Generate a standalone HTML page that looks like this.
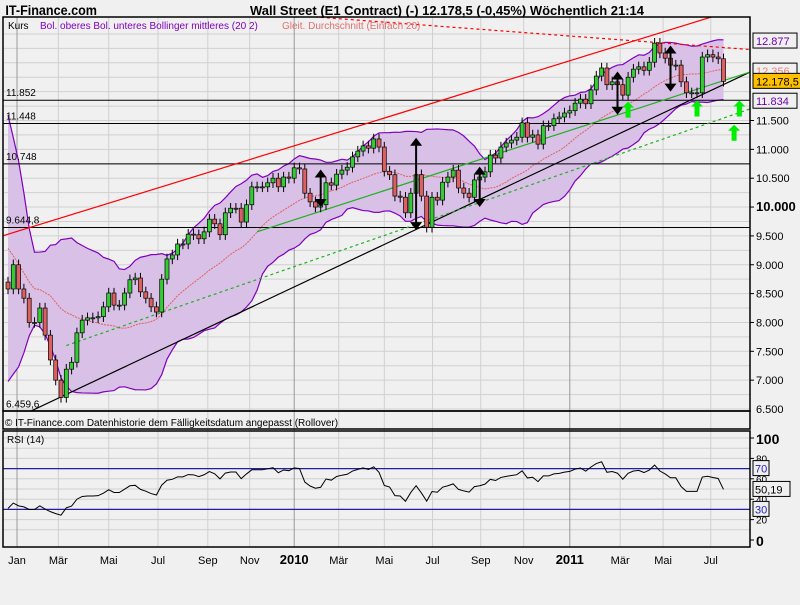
<!DOCTYPE html>
<html><head><meta charset="utf-8"><style>
body{margin:0;background:#f0f0f0;font-family:"Liberation Sans",sans-serif;}
svg text{font-family:"Liberation Sans",sans-serif;}
</style></head><body>
<svg id="c" width="800" height="600" xmlns="http://www.w3.org/2000/svg">
<rect x="0" y="0" width="800" height="600" fill="#f0f0f0"/>
<text x="6" y="15" font-size="14" font-weight="bold" transform="scale(0.9,1)" >IT-Finance.com</text>
<text x="250" y="15" font-size="13" font-weight="bold" textLength="394">Wall Street (E1 Contract) (-)    12.178,5 (-0,45%)    Wöchentlich  21:14</text>
<g id="grid"></g>
<g id="plot"></g>
<g id="rsi"></g>
<g id="axes"></g>
<text x="8" y="29" font-size="10">Kurs</text>
<text x="40" y="29" font-size="10" fill="#8000c0">Bol. oberes Bol. unteres Bollinger mittleres (20 2)</text>
<text x="282" y="29" font-size="10" fill="#e07070">Gleit. Durchschnitt (Einfach 20)</text>
<text x="5" y="426" font-size="10">© IT-Finance.com  Datenhistorie dem Fälligkeitsdatum angepasst (Rollover)</text>
<text x="7" y="443" font-size="10">RSI (14)</text>
</svg>
<script>
const pre = [11600,11400,11500,11200,10300,8500,8900,8400,9300,8900,8500,8100,8800,8600,8600,8500,8500,8800,8700];
const closes = [8580,9000,8580,8420,8000,8000,8250,7780,7350,7000,6700,7190,7310,7820,8040,8080,8080,8100,8270,8510,8300,8300,8510,8740,8770,8530,8420,8270,8180,8750,9100,9170,9360,9360,9530,9520,9450,9570,9790,9710,9520,9900,9980,9980,9740,10040,10350,10350,10350,10420,10500,10350,10520,10500,10680,10660,
10240,10090,10000,10040,10420,10380,10570,10640,10690,10870,10970,11060,11020,11180,11040,10620,10560,10190,10170,9900,10240,10560,10190,9650,10170,10120,10430,10520,10640,10330,10240,10170,10470,10520,10610,10900,10850,11040,
11110,11160,11210,11460,11210,11250,11090,11410,11410,11530,11560,11630,11670,11800,11870,11790,12030,12270,12410,12120,12170,12120,11940,12250,12390,12430,12370,12510,12840,12670,12580,12460,12460,12170,11980,11980,11980,12600,12640,12600,12570,12178.5];
const priceTicks = [7000,7500,8000,8500,9000,9500,10000,10500,11000,11500];
const priceTickLabels = ["7.000","7.500","8.000","8.500","9.000","9.500","10.000","10.500","11.000","11.500"];
const levels = [11852,11448,10748,9644.8,6459.6];
const levelLabels = ["11.852","11.448","10.748","9.644,8","6.459,6"];
const months = ["Jan","Mär","Mai","Jul","Sep","Nov","2010","Mär","Mai","Jul","Sep","Nov","2011","Mär","Mai","Jul"];
const monthIdx = [1.7,9.5,19,28.3,37.7,45.6,54,62.4,71,80.1,89.2,97.3,106,115.5,123.6,132.6];
const rsiTicks = [0,20,40,60,80,100];
const arrowsIdx = [[59,10000,10650],[77,9600,11200],[89,10000,10700],[115,11600,12350],[125,12000,12800]];
const upArrowsIdx = [[117,11550],[130,11570],[138,11570],[137,11150]];

const NS="http://www.w3.org/2000/svg";
const X0=3,X1=750,Y0=17,Y1=411;
const xs=i=>8+i*5.3;
const py=v=>409-(v-6500)*0.0577;
const ry=r=>540-r*1.02;
function el(tag,attrs,parent){const e=document.createElementNS(NS,tag);for(const k in attrs)e.setAttribute(k,attrs[k]);parent.appendChild(e);return e;}
const grid=document.getElementById('grid'),plot=document.getElementById('plot'),rsiG=document.getElementById('rsi'),axes=document.getElementById('axes');

let r=el('rect',{x:X0,y:Y0,width:X1-X0,height:Y1-Y0,fill:'#f0f0f0'},grid);

for(let v=6500;v<=13000;v+=250){const l=el('line',{x1:X0,x2:X1,y1:py(v),y2:py(v),stroke:'#d0d0d0'},grid);}
for(let r2=10;r2<=100;r2+=10){const l=el('line',{x1:X0,x2:X1,y1:ry(r2),y2:ry(r2),stroke:'#d0d0d0'},grid);}
monthIdx.forEach((m,k)=>{const yr=months[k].length===4||k===0;const l=el('line',{x1:xs(m),x2:xs(m),y1:Y0,y2:547,stroke:yr?'#999':'#d0d0d0'},grid);});

const defs=el('defs',{},plot);const cp=el('clipPath',{id:'cp'},defs);el('rect',{x:X0,y:Y0,width:X1-X0,height:Y1-Y0},cp);
const pg=el('g',{'clip-path':'url(#cp)'},plot);

const all=pre.concat(closes);const P=pre.length;
const up=[],lo=[],mid=[];
closes.forEach((c,i)=>{const w=all.slice(P+i-19,P+i+1);const m=w.reduce((a,b)=>a+b,0)/w.length;const sd=Math.sqrt(w.reduce((a,b)=>a+(b-m)*(b-m),0)/w.length);mid.push(m);up.push(m+2*sd);lo.push(m-2*sd);});
let d='M'+closes.map((c,i)=>xs(i)+','+py(up[i])).join('L')+'L'+closes.map((c,i)=>xs(closes.length-1-i)+','+py(lo[closes.length-1-i])).join('L')+'Z';
let e=el('path',{d:d,fill:'#d9c0e6'},pg);
e=el('path',{d:'M'+up.map((v,i)=>xs(i)+','+py(v)).join('L'),fill:'none',stroke:'#8000c0','stroke-width':1.2},pg);
e=el('path',{d:'M'+lo.map((v,i)=>xs(i)+','+py(v)).join('L'),fill:'none',stroke:'#8000c0','stroke-width':1.2},pg);
e=el('path',{d:'M'+mid.map((v,i)=>xs(i)+','+py(v)).join('L'),fill:'none',stroke:'#e06060','stroke-width':1,'stroke-dasharray':'2,1'},pg);

levels.forEach((v,k)=>{const l=el('line',{x1:X0,x2:X1,y1:py(v),y2:py(v),stroke:'#000'},pg);
const t=el('text',{x:6,y:py(v)-4,'font-size':10},pg);t.textContent=levelLabels[k];});

function tl(i1,v1,i2,v2,col,dash,name){const l=el('line',{x1:xs(i1),y1:py(v1),x2:xs(i2),y2:py(v2),stroke:col,'stroke-width':1.2},pg);if(dash)l.setAttribute('stroke-dasharray',dash);}
tl(-1,9500,140,13500,'#ff0000',null,'red-trendline');
tl(4,6450,140,12340,'#000',null,'black-trendline');
tl(47,9570,140,12340,'#20b020',null,'green-trendline');
tl(11,7600,140,11700,'#20b020','3,3','green-dashed-trendline');
tl(50,13350,140,12730,'#ff0000','3,3','red-dashed-trendline');

closes.forEach((c,i)=>{const o=i===0?8700:closes[i-1];const x=xs(i);const hi=Math.max(o,c),lw=Math.min(o,c);
const w=el('line',{x1:x,x2:x,y1:py(hi+90),y2:py(lw-90),stroke:'#000'},pg);
const b=el('rect',{x:x-2,y:py(hi),width:4,height:Math.max(1,py(lw)-py(hi)),fill:c>=o?'#33cc33':'#dd6060',stroke:'#000','stroke-width':0.7},pg);});

arrowsIdx.forEach(a=>{const x=xs(a[0]),y1=py(a[2]),y2=py(a[1]);
const l=el('line',{x1:x,x2:x,y1:y1+6,y2:y2-6,stroke:'#000','stroke-width':2},pg);
const t1=el('polygon',{points:`${x-6},${y1+8} ${x+6},${y1+8} ${x},${y1}`,fill:'#000'},pg);
const t2=el('polygon',{points:`${x-6},${y2-8} ${x+6},${y2-8} ${x},${y2}`,fill:'#000'},pg);});
upArrowsIdx.forEach(a=>{const x=xs(a[0]),y=py(a[1]);const p=el('polygon',{points:`${x},${y-16} ${x+6},${y-10} ${x+2.5},${y-10} ${x+2.5},${y} ${x-2.5},${y} ${x-2.5},${y-10} ${x-6},${y-10}`,fill:'#00ee00'},plot);});

const rs=[];let ag=0,al=0;
all.forEach((c,i)=>{if(i===0)return;const ch=c-all[i-1];const g=Math.max(ch,0),lz=Math.max(-ch,0);if(i<=14){ag+=g/14;al+=lz/14;}else{ag=(ag*13+g)/14;al=(al*13+lz)/14;}if(i>=P)rs.push(al===0?100:100-100/(1+ag/al));});
[70,30].forEach(v=>{const l=el('line',{x1:X0,x2:X1,y1:ry(v),y2:ry(v),stroke:'#2020a0','stroke-width':1.2},rsiG);});
e=el('path',{d:'M'+rs.map((v,i)=>xs(i)+','+ry(v)).join('L'),fill:'none',stroke:'#000'},rsiG);

[[X0,Y0,X1-X0,Y1-Y0],[X0,Y1,X1-X0,18],[X0,431,X1-X0,116]].forEach(f=>{const q=el('rect',{x:f[0],y:f[1],width:f[2],height:f[3],fill:'none',stroke:'#000','stroke-width':1.5},axes);});

priceTicks.forEach((v,k)=>{const y=py(v);const l=el('line',{x1:X1,x2:X1+4,y1:y,y2:y,stroke:'#000'},axes);
const t=el('text',{x:756,y:y+4,'font-size':v===10000?13:11,'font-weight':v===10000?'bold':'normal'},axes);t.textContent=priceTickLabels[k];});
let t6=el('text',{x:756,y:413,'font-size':11},axes);t6.textContent='6.500';
function box(v,txt,col,bg,name){const y=py(v);const b=el('rect',{x:753,y:y-8,width:x2w(txt),height:15,fill:bg,stroke:'#000'},axes);const t=el('text',{x:756,y:y+4,'font-size':11,fill:col},axes);t.textContent=txt;}
function x2w(s){return s.length*7+2;}
box(12877,'12.877','#7000b0','#f0f0f0','upper-band-value');
box(12356,'12.356','#f08080','#f0f0f0','sma-value');
box(11834,'11.834','#7000b0','#f0f0f0','lower-band-value');
box(closes[closes.length-1],'12.178,5','#000','#ffc000','last-price');

rsiTicks.forEach(v=>{const y=ry(v);const l=el('line',{x1:X1,x2:X1+4,y1:y,y2:y,stroke:'#000'},axes);
const big=v===0||v===100;const t=el('text',{x:756,y:y+(big?6:4),'font-size':big?14:10,'font-weight':big?'bold':'normal'},axes);t.textContent=v;});
[[70,'70','#2020c0'],[30,'30','#2020c0'],[rs[rs.length-1],'50,19','#000']].forEach(b=>{const y=ry(b[0]);const q=el('rect',{x:753,y:y-8,width:b[1].length*7+2,height:15,fill:'#f0f0f0',stroke:'#000'},axes);const t=el('text',{x:755,y:y+4,'font-size':11,fill:b[2]},axes);t.textContent=b[1];});

months.forEach((m,k)=>{const yr=m.length===4;const t=el('text',{x:xs(monthIdx[k]),y:564,'font-size':yr?13:11,'font-weight':yr?'bold':'normal','text-anchor':'middle'},axes);t.textContent=m;});
</script>
</body></html>
